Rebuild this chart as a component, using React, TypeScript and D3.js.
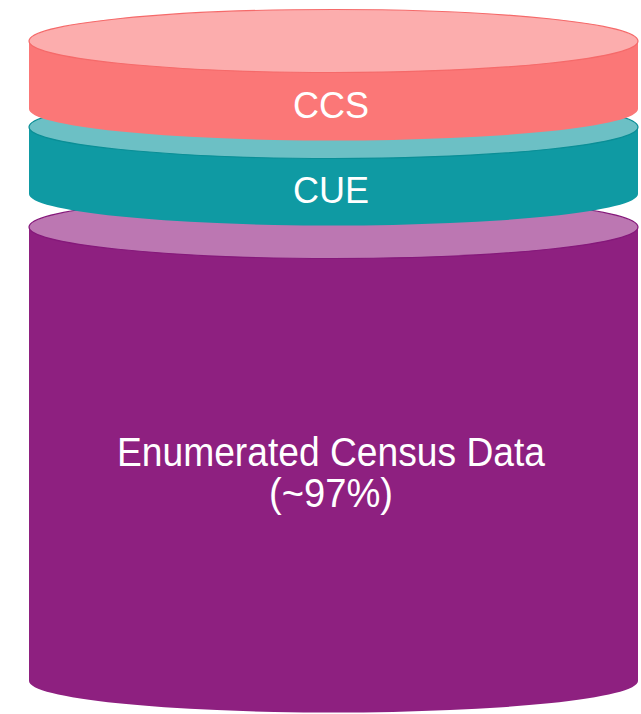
import * as d3 from 'd3';
import { useEffect, useRef } from 'react';

// stacked data layers, top to bottom
const layers = ['CCS', 'CUE', 'Enumerated Census Data'];
const subLabels = ['', '', '(~97%)'];
const layerTop = [0, 86, 186];
const layerBottom = [68, 153, 640];
const sideColors = ['#FB7777', '#0F9AA3', '#8E2080'];
const capColors = ['#FCADAD', '#6CC0C5', '#BC77B2'];
const edgeColors = ['#F56A6A', '#0A8E96', '#85187A'];

function App() {
    const ref = useRef<SVGSVGElement>(null);

    useEffect(() => {
        const svg = d3.select(ref.current);
        svg.selectAll('*').remove();

        const x = d3.scaleLinear().domain([-1, 1]).range([29, 638]);
        const y = d3.scaleLinear().domain([0, 640]).range([41, 681]);
        const cx = x(0);
        const rx = x(1) - cx;
        const ry = 31.5;
        const font = 'Liberation Sans, Arial, sans-serif';

        // draw from the bottom layer up so upper discs sit on top
        d3.range(layers.length).reverse().forEach(i => {
            const yt = y(layerTop[i]);
            const yb = y(layerBottom[i]);
            const g = svg.append('g');

            const body = `M${cx - rx},${yt} L${cx - rx},${yb} A${rx},${ry} 0 0 0 ${cx + rx},${yb} L${cx + rx},${yt} Z`;
            g.append('path')
                .attr('d', body)
                .attr('fill', sideColors[i]);

            g.append('ellipse')
                .attr('cx', cx)
                .attr('cy', yt)
                .attr('rx', rx)
                .attr('ry', ry)
                .attr('fill', capColors[i])
                .attr('stroke', edgeColors[i])
                .attr('stroke-width', 1.2);

            const mid = (yt + yb) / 2 + ry;
            const tx = cx - 2.5;
            if (subLabels[i]) {
                g.append('text')
                    .attr('x', tx)
                    .attr('y', mid - 19.5)
                    .attr('text-anchor', 'middle')
                    .attr('font-family', font)
                    .attr('font-size', 40)
                    .attr('fill', '#fff')
                    .attr('textLength', 428)
                    .attr('lengthAdjust', 'spacingAndGlyphs')
                    .text(layers[i]);
                g.append('text')
                    .attr('x', tx)
                    .attr('y', mid + 21.5)
                    .attr('text-anchor', 'middle')
                    .attr('font-family', font)
                    .attr('font-size', 40)
                    .attr('fill', '#fff')
                    .attr('textLength', 124)
                    .attr('lengthAdjust', 'spacingAndGlyphs')
                    .text(subLabels[i]);
            } else {
                g.append('text')
                    .attr('x', tx)
                    .attr('y', mid + 11)
                    .attr('text-anchor', 'middle')
                    .attr('font-family', font)
                    .attr('font-size', 36)
                    .attr('fill', '#fff')
                    .text(layers[i]);
            }
        });
    }, []);

    return (
        <svg
            ref={ref}
            width={641}
            height={714}
            style={{ position: 'absolute', left: 0, top: 0, background: '#fff' }}
        />
    );
}

export default App;
